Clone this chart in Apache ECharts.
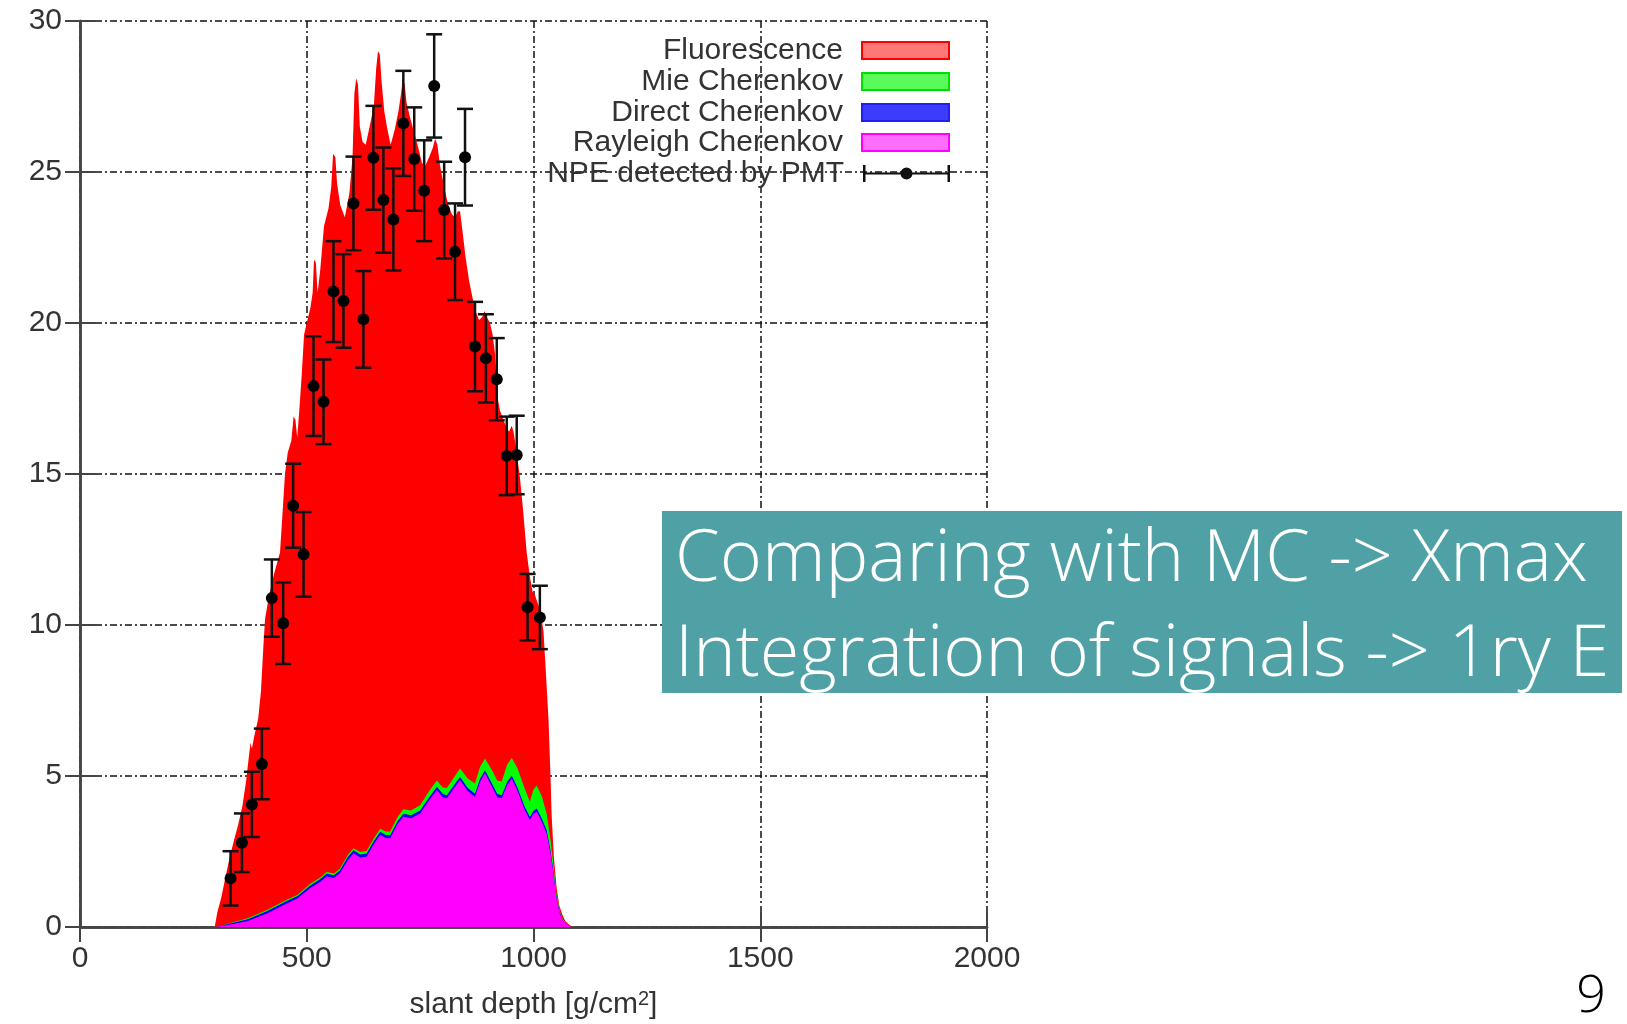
<!DOCTYPE html>
<html>
<head>
<meta charset="utf-8">
<script src="https://cdn.jsdelivr.net/npm/echarts@6/dist/echarts.min.js"></script>
<style>
html,body{margin:0;padding:0;background:#fff;}
#chart{width:1627px;height:1024px;}
</style>
</head>
<body>
<div id="chart"></div>
<script>
// ---- Data ----
// Total (stacked) top = Fluorescence curve outline
const totalX = [297,303,312,320,330,340,349,358,366,372,376,379,384,393,399,404,408,416,428,441,447,452,458,466,471,475,479,484,489,494,500,508,513,516,520,524,530,538,548,554,558,563,567,574,584,594,601,605,609,613,617,623,630,640,648,653,657,661,665,671,678,685,694,702,708,712,716,720,728,737,746,754,761,770,778,783,788,794,803,812,820,827,833,838,843,850,858,866,872,880,887,892,897,904,910,915,920,926,936,946,952,956,962,970,977,985,992,998,1003,1007,1012,1018,1022,1027,1033,1037,1040,1045,1051,1057,1064,1070,1078,1086];
const totalY = [0,0.5,1.0,1.6,2.3,2.9,3.4,4.0,4.8,5.6,6.1,5.9,6.3,6.9,7.8,9.2,10.2,10.9,11.7,12.4,13.8,15.0,15.7,16.1,16.9,16.8,16.2,17.2,18.3,19.6,20.0,20.5,21.0,22.1,22.0,21.0,21.8,23.2,23.8,24.5,25.6,25.5,24.6,23.9,23.5,24.3,25.5,27.6,28.1,27.9,26.5,26.0,25.9,26.6,27.2,28.4,29.0,28.9,28.0,27.0,26.4,25.9,26.4,27.0,27.6,28.1,27.9,27.3,26.8,26.3,25.8,25.3,25.2,25.5,25.8,26.1,25.9,25.2,24.5,23.9,23.6,23.5,23.7,23.7,23.1,22.2,21.4,20.8,20.4,20.1,20.2,20.4,20.2,20.0,19.6,19.0,17.6,17.1,16.7,16.4,16.6,16.4,15.8,14.9,13.8,12.4,11.6,11.1,11.0,11.05,10.6,10.2,9.8,8.5,6.9,5.2,3.7,2.3,1.3,0.7,0.4,0.2,0.08,0];

// Cherenkov cumulative tops (shared x grid)
const cherX = [300,338,370,412,456,480,507,530,544,560,573,590,603,618,632,648,662,674,684,700,713,730,750,770,787,800,809,825,838,855,871,882,893,910,920,930,942,952,965,980,992,1000,1007,1018,1029,1037,1044,1050,1058,1065,1073,1082];
const mieTop = [0,0.16,0.29,0.56,0.9,1.07,1.42,1.64,1.82,1.77,1.93,2.37,2.61,2.48,2.52,2.94,3.25,3.16,3.16,3.63,3.9,3.86,4.03,4.5,4.85,4.62,4.6,4.96,5.25,4.92,4.75,5.3,5.58,5.15,4.85,4.82,5.38,5.6,5.25,4.6,4.15,4.55,4.68,4.35,3.75,2.95,2.05,1.15,0.52,0.23,0.11,0];
const directTop = [0,0.14,0.26,0.52,0.86,1.03,1.37,1.59,1.76,1.71,1.87,2.3,2.54,2.4,2.43,2.85,3.15,3.05,3.04,3.5,3.75,3.7,3.86,4.3,4.64,4.4,4.36,4.7,4.97,4.6,4.41,4.9,5.19,4.7,4.4,4.36,4.8,5.02,4.6,4.0,3.64,3.85,3.92,3.6,3.2,2.58,1.85,1.05,0.48,0.21,0.1,0];
const rayleighTop = [0,0.1,0.2,0.45,0.78,0.95,1.28,1.5,1.67,1.62,1.78,2.2,2.44,2.3,2.33,2.75,3.05,2.95,2.94,3.4,3.65,3.6,3.76,4.2,4.54,4.3,4.26,4.6,4.87,4.5,4.31,4.8,5.09,4.6,4.3,4.26,4.7,4.92,4.5,3.9,3.54,3.75,3.82,3.5,3.1,2.5,1.78,1.0,0.45,0.2,0.1,0];

// NPE detected by PMT (with errors)
const npeX = [332,357,379,401,423,448,470,493,515,537,559,581,603,625,647,669,691,713,737,759,781,803,827,849,871,895,919,941,963,987,1014];
const npeY = [1.61,2.79,4.06,5.40,10.89,10.06,13.95,12.34,17.91,17.39,21.04,20.73,23.96,20.12,25.47,24.07,23.43,26.61,25.43,24.38,27.85,23.74,22.36,25.49,19.22,18.83,18.14,15.6,15.63,10.59,10.25];
const npeErr = [0.9,0.97,1.08,1.17,1.28,1.35,1.39,1.4,1.65,1.4,1.67,1.55,1.55,1.6,1.72,1.74,1.69,1.74,1.71,1.67,1.71,1.6,1.6,1.6,1.48,1.46,1.36,1.3,1.3,1.1,1.05];

const xTicks = [0, 500, 1000, 1500, 2000];
const yTicks = [0, 5, 10, 15, 20, 25, 30];
const seriesNames = ['Fluorescence', 'Mie Cherenkov', 'Direct Cherenkov', 'Rayleigh Cherenkov', 'NPE detected by PMT'];
const slideLines = ['Comparing with MC -> Xmax', 'Integration of signals -> 1ry E'];
const pageNumber = '9';

// ---- Chart ----
const FONT = "'Liberation Sans', Arial, sans-serif";
const SLIDE_FONT = "'Open Sans', 'Noto Sans', sans-serif";
const chart = echarts.init(document.getElementById('chart'), null, {renderer: 'canvas'});
const pairs = (xs, ys) => xs.map((x, i) => [x, ys[i]]);
const gridDash = [7, 3, 2, 3];

function legendFor(idx, centerY, icon, style) {
  return {
    show: true, orient: 'horizontal', right: 677, top: centerY - 13.5,
    padding: 0, itemWidth: 87, itemHeight: 17, align: 'right', selectedMode: false,
    data: [{name: seriesNames[idx], icon: icon, itemStyle: style}],
    textStyle: {fontSize: 30, color: '#333', fontFamily: FONT, padding: [0, 14, 0, 0], lineHeight: 17}
  };
}

const borderLine = {show: true, lineStyle: {color: '#444', width: 2.5}};
const inTick = {show: true, inside: true, length: 15, lineStyle: {color: '#444', width: 2}};

const option = {
  animation: false,
  backgroundColor: '#fff',
  grid: {left: 80, top: 21, right: 640, bottom: 97, containLabel: false, outerBoundsMode: 'none'},
  legend: [
    legendFor(0, 49, 'rect', {color: 'rgba(255,120,120,1)', borderColor: '#ff0000', borderWidth: 2}),
    legendFor(1, 80, 'rect', {color: 'rgba(90,250,90,1)', borderColor: '#00e000', borderWidth: 2}),
    legendFor(2, 111, 'rect', {color: 'rgba(60,60,250,1)', borderColor: '#2020f0', borderWidth: 2}),
    legendFor(3, 141, 'rect', {color: 'rgba(255,110,255,1)', borderColor: '#ff00ff', borderWidth: 2}),
    legendFor(4, 172, 'path://M0,0h2.5v17h-2.5z M84.5,0h2.5v17h-2.5z M0,7.5h87v2h-87z M43.5,2.5a6,6 0 1,1 0,12a6,6 0 1,1 0,-12z', {color: '#111'})
  ],
  xAxis: [{
    type: 'value', min: xTicks[0], max: xTicks[xTicks.length - 1], interval: 500, position: 'bottom',
    name: 'slant depth [g/cm{sup|2}]', nameLocation: 'middle', nameGap: 62,
    nameTextStyle: {fontSize: 30, color: '#333', fontFamily: FONT, rich: {sup: {fontSize: 20, color: '#333', fontFamily: FONT, verticalAlign: 'top', padding: [0, 0, 12, 0]}}},
    axisLine: borderLine, axisTick: inTick,
    axisLabel: {fontSize: 30, color: '#333', fontFamily: FONT, margin: 17, formatter: function (v) { return String(v); }},
    splitLine: {show: true, lineStyle: {color: '#111', width: 1.5, type: gridDash}}
  }, {
    type: 'value', min: xTicks[0], max: xTicks[xTicks.length - 1], interval: 500, position: 'top',
    axisLine: borderLine, axisTick: inTick, axisLabel: {show: false}, splitLine: {show: false}
  }],
  yAxis: [{
    type: 'value', min: yTicks[0], max: yTicks[yTicks.length - 1], interval: 5, position: 'left',
    axisLine: borderLine, axisTick: inTick,
    axisLabel: {fontSize: 30, color: '#333', fontFamily: FONT, margin: 18, formatter: function (v) { return String(v); }},
    splitLine: {show: true, lineStyle: {color: '#111', width: 1.5, type: gridDash}}
  }, {
    type: 'value', min: yTicks[0], max: yTicks[yTicks.length - 1], interval: 5, position: 'right',
    axisLine: borderLine, axisTick: inTick, axisLabel: {show: false}, splitLine: {show: false}
  }],
  series: [
    {name: seriesNames[0], type: 'line', data: pairs(totalX, totalY), showSymbol: false, symbol: 'none',
     lineStyle: {width: 0}, areaStyle: {color: '#ff0000', opacity: 1}, itemStyle: {color: '#ff0000'}, z: 2},
    {name: seriesNames[1], type: 'line', data: pairs(cherX, mieTop), showSymbol: false, symbol: 'none',
     lineStyle: {width: 0}, areaStyle: {color: '#00ff00', opacity: 1}, itemStyle: {color: '#00ff00'}, z: 3},
    {name: seriesNames[2], type: 'line', data: pairs(cherX, directTop), showSymbol: false, symbol: 'none',
     lineStyle: {width: 0}, areaStyle: {color: '#0000ff', opacity: 1}, itemStyle: {color: '#0000ff'}, z: 4},
    {name: seriesNames[3], type: 'line', data: pairs(cherX, rayleighTop), showSymbol: false, symbol: 'none',
     lineStyle: {width: 0}, areaStyle: {color: '#ff00ff', opacity: 1}, itemStyle: {color: '#ff00ff'}, z: 5},
    {name: seriesNames[4], type: 'custom', z: 10,
     data: npeX.map((x, i) => [x, npeY[i], npeErr[i]]),
     encode: {x: 0, y: 1},
     itemStyle: {color: '#111'},
     renderItem: function (params, api) {
       const x = api.value(0), y = api.value(1), e = api.value(2);
       const c = api.coord([x, y]);
       const hi = api.coord([x, y + e]);
       const lo = api.coord([x, y - e]);
       const w = 8;
       const st = {stroke: '#111', lineWidth: 2.5};
       return {type: 'group', children: [
         {type: 'line', shape: {x1: c[0], y1: hi[1], x2: c[0], y2: lo[1]}, style: st},
         {type: 'line', shape: {x1: c[0] - w, y1: hi[1], x2: c[0] + w, y2: hi[1]}, style: st},
         {type: 'line', shape: {x1: c[0] - w, y1: lo[1], x2: c[0] + w, y2: lo[1]}, style: st},
         {type: 'circle', shape: {cx: c[0], cy: c[1], r: 6}, style: {fill: '#000'}}
       ]};
     }}
  ],
  graphic: [
    {type: 'rect', left: 662, top: 511, shape: {width: 960, height: 182}, style: {fill: '#50a1a6'}, z: 100},
    {type: 'text', x: 675, y: 560, z: 101, style: {text: slideLines[0], fill: '#fff', font: "300 72px " + SLIDE_FONT, verticalAlign: 'middle', align: 'left'}},
    {type: 'text', x: 675, y: 655, z: 101, style: {text: slideLines[1], fill: '#fff', font: "300 72px " + SLIDE_FONT, verticalAlign: 'middle', align: 'left'}},
    {type: 'text', x: 1591, y: 997, z: 101, style: {text: pageNumber, fill: '#000', font: "300 52px " + SLIDE_FONT, verticalAlign: 'middle', align: 'center'}}
  ]
};
chart.setOption(option);
</script>
</body>
</html>
